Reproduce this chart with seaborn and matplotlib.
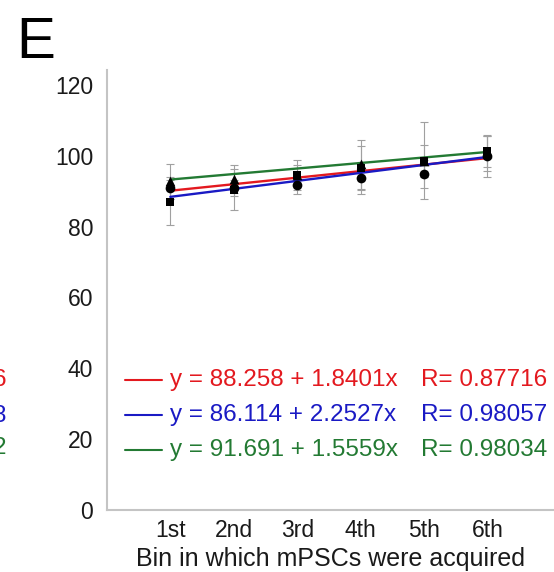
import numpy as np
import pandas as pd
import matplotlib
matplotlib.use("Agg")
import matplotlib.pyplot as plt
import seaborn as sns

# Bins and tick labels
bins = [1, 2, 3, 4, 5, 6]
bin_labels = ["1st", "2nd", "3rd", "4th", "5th", "6th"]

# Mean amplitude per bin for the three groups, with SD
circle_mean = [90.9, 90.9, 91.6, 93.7, 94.8, 99.8]
circle_err = [3.0, 2.2, 2.4, 4.5, 4.0, 5.7]
square_mean = [86.8, 90.4, 94.6, 96.5, 98.6, 101.2]
square_err = [6.3, 5.7, 4.3, 6.3, 10.8, 4.5]
triangle_mean = [92.7, 93.4, 94.4, 97.5, 98.5, 100.6]
triangle_err = [5.0, 4.0, 3.0, 7.0, 4.6, 5.0]

# Linear fits: intercept, slope, R
fit_intercept = [88.258, 86.114, 91.691]
fit_slope = [1.8401, 2.2527, 1.5559]
fit_r = ["0.87716", "0.98057", "0.98034"]
fit_intercept_txt = ["88.258", "86.114", "91.691"]
fit_slope_txt = ["1.8401", "2.2527", "1.5559"]
fit_colors = ["#e3191f", "#1a1ac4", "#237a33"]

sns.set_theme(style="white")
plt.rcParams["font.family"] = ["Liberation Sans", "DejaVu Sans"]

fig = plt.figure(figsize=(5.54, 5.72), dpi=100)
ax = fig.add_axes([0.193, 0.108, 0.807, 0.770])

# Fitted lines
for b0, b1, c in zip(fit_intercept, fit_slope, fit_colors):
    xs = np.array([bins[0], bins[-1]], dtype=float)
    line_df = pd.DataFrame({"x": xs, "y": b0 + b1 * xs})
    sns.lineplot(data=line_df, x="x", y="y", color=c, lw=1.7, ax=ax, zorder=3)

# Error bars and markers
groups = [
    (circle_mean, circle_err, "o", 7),
    (square_mean, square_err, "s", 6.3),
    (triangle_mean, triangle_err, "^", 7),
]
for mean, err, mk, ms in groups:
    ax.errorbar(bins, mean, yerr=err, fmt="none", ecolor="#a0a0a0",
                elinewidth=0.8, capsize=3, capthick=0.8, zorder=2)
    df = pd.DataFrame({"bin": bins, "val": mean})
    sns.scatterplot(data=df, x="bin", y="val", marker=mk, s=ms ** 2,
                    color="black", edgecolor="black", linewidth=0,
                    ax=ax, zorder=4)

# Equation legend inside the axes
rows_y = [36.6, 26.9, 17.0]
for i in range(3):
    c = fit_colors[i]
    ax.plot([0.283, 0.868], [rows_y[i], rows_y[i]], color=c, lw=1.5, zorder=3)
    ax.text(0.99, rows_y[i],
            f"y = {fit_intercept_txt[i]} + {fit_slope_txt[i]}x",
            color=c, fontsize=17.5, va="center", ha="left")
    ax.text(4.96, rows_y[i], f"R= {fit_r[i]}",
            color=c, fontsize=17.5, va="center", ha="left")

ax.set_xlim(0, 7.05)
ax.set_ylim(0, 124.2)
ax.set_yticks([0, 20, 40, 60, 80, 100, 120])
ax.set_xticks(bins)
ax.set_xticklabels(bin_labels)
ax.tick_params(axis="both", length=0, labelsize=16.5, colors="#1a1a1a")
ax.tick_params(axis="y", pad=10)
ax.tick_params(axis="x", pad=6)
ax.set_xlabel("Bin in which mPSCs were acquired", fontsize=18, color="#1a1a1a",
              labelpad=4)
ax.set_ylabel("")

for side in ["top", "right"]:
    ax.spines[side].set_visible(False)
for side in ["left", "bottom"]:
    ax.spines[side].set_color("#c4c4c4")
    ax.spines[side].set_linewidth(1.5)

# Panel letter
fig.text(0.03, 0.972, "E", fontsize=42, va="top", ha="left", color="black")

# Ends of the neighbouring panel's labels, cut at the figure edge
for txt, c, yp in zip(["6", "8", "2"], fit_colors, [380, 416, 448]):
    fig.text(0.012, 1 - yp / 572, txt, color=c, fontsize=17.5,
             ha="right", va="center")

fig.savefig("out.png", dpi=100)
